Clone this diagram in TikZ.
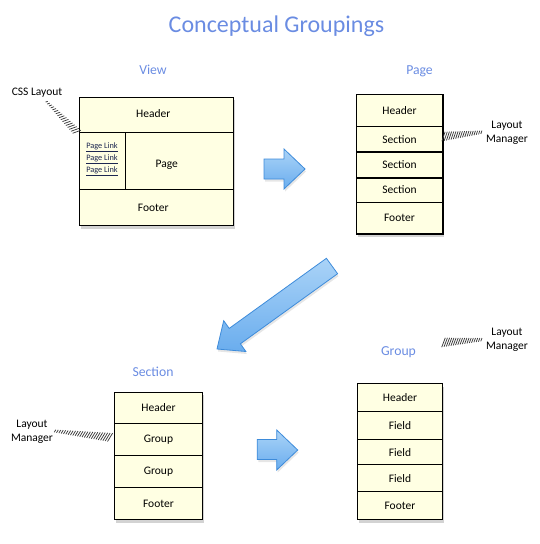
\documentclass[tikz,border=0pt]{standalone}
\usepackage{fontspec}
\setmainfont{Carlito}
\usetikzlibrary{calc,shadows}
\definecolor{boxfill}{HTML}{FFFFE3}
\definecolor{titleblue}{HTML}{6A8CE2}
\definecolor{arrowtop}{HTML}{AAD3F7}
\definecolor{arrowbot}{HTML}{6AADEE}
\definecolor{arrowedge}{HTML}{3D8BDA}
\definecolor{hatchgray}{HTML}{3A3A3A}
\definecolor{linkblue}{HTML}{1C2650}
\tikzset{
 boxtxt/.style={font=\fontsize{11.5}{13}\selectfont},
 row/.style={draw=black, line width=0.9pt, fill=boxfill, anchor=north west, inner sep=0pt, boxtxt},
 outer/.style={draw=black, line width=1pt, fill=boxfill, anchor=north west, inner sep=0pt,
   drop shadow={shadow xshift=1.5pt, shadow yshift=-3pt, opacity=0.35}},
 heading/.style={text=titleblue, font=\fontsize{13.7}{16}\selectfont},
 plain/.style={text=black, font=\fontsize{11.5}{14}\selectfont, align=center, inner sep=0pt},
 linktxt/.style={text=linkblue, font=\fontsize{8.3}{9}\selectfont, inner sep=0pt},
 hatchtick/.style={draw=hatchgray, line width=0.75pt},
 thicksep/.style={draw=black, line width=1.8pt},
 blockarrow/.style={draw=arrowedge, line width=0.8pt, top color=arrowtop, bottom color=arrowbot,
   drop shadow={shadow xshift=1pt, shadow yshift=-2.5pt, opacity=0.2}},
}
\newcommand\hatchline[5]{%
  \foreach \t in {0,#5,...,0.97}{%
    \pgfmathsetmacro\hh{#3+(#4-#3)*\t}%
    \coordinate (hp) at ($(#1)!\t!(#2)$);
    \draw[hatchtick] ($(hp)!\hh pt!65:(#2)$) -- ($(hp)!\hh pt!-115:(#2)$);
  }}
\begin{document}
\begin{tikzpicture}[x=1pt,y=-1pt]
\useasboundingbox (0,0) rectangle (539,544);
% title
\node[text=titleblue, font=\fontsize{24}{28}\selectfont] (title) at (276.5,26) {Conceptual Groupings};

% ---------- View ----------
\node[heading] (hview) at (153,70) {View};
\node[outer, minimum width=154pt, minimum height=128.3pt] (vbox) at (79.3,96.7) {};
\node[row, minimum width=154pt, minimum height=35.3pt] (vhead) at (79.3,96.7) {};
\node[plain] (vheadt) at (153.3,114) {Header};
\node[row, minimum width=46pt, minimum height=57pt] (vlinks) at (79.3,132) {};
\node[row, minimum width=108pt, minimum height=57pt] (vpage) at (125.3,132) {};
\node[plain] (vpaget) at (166.7,164.3) {Page};
\node[row, minimum width=154pt, minimum height=36pt] (vfoot) at (79.3,189) {};
\node[plain] (vfoott) at (153.3,207.7) {Footer};
\node[linktxt] (l1) at (102,147.3) {\underline{Page Link}};
\node[linktxt] (l2) at (102,159.2) {\underline{Page Link}};
\node[linktxt] (l3) at (102,171.1) {\underline{Page Link}};
\node[plain] (css) at (37,93) {CSS Layout};
\coordinate (cssA) at (46.7,101.7);
\coordinate (cssB) at (78,133);
\hatchline{cssA}{cssB}{1.2}{4.5}{0.06}

% ---------- Page ----------
\node[heading] (hpage) at (419.5,71) {Page};
\node[outer, minimum width=86pt, minimum height=139pt] (pbox) at (356,94) {};
\node[row, minimum width=86pt, minimum height=32pt] (ph) at (356,94) {Header};
\node[row, minimum width=86pt, minimum height=26pt] (ps1) at (356,126) {Section};
\node[row, minimum width=86pt, minimum height=25pt] (ps2) at (356,152) {Section};
\node[row, minimum width=86pt, minimum height=24.5pt] (ps3) at (356,177) {Section};
\node[row, minimum width=86pt, minimum height=31.5pt] (pf) at (356,201.5) {Footer};
\draw[thicksep] (ps2.north west) -- (ps2.north east);
\draw[thicksep] (ps2.south west) -- (ps2.south east);
\draw[black, line width=1pt] (pbox.north west) rectangle (pbox.south east);
\node[plain] (plm) at (507,133) {Layout\\Manager};
\coordinate (plmA) at (443.5,136.5);
\coordinate (plmB) at (484,132);
\hatchline{plmA}{plmB}{5}{1.5}{0.055}

% ---------- big arrows ----------
\path[blockarrow] (264,159) -- (284,159) -- (284,149) -- (305,169) -- (284,189) -- (284,179) -- (264,179) -- cycle;
\path[blockarrow] (326.4,258.3) -- (337.6,273.7) -- (240.4,343.8) -- (245.9,351.5) -- (217,349) -- (223.7,320.7) -- (229.2,328.4) -- cycle;
\path[blockarrow] (257.3,439.5) -- (276.7,439.5) -- (276.7,430) -- (297.7,450) -- (276.7,470) -- (276.7,459.5) -- (257.3,459.5) -- cycle;

% ---------- Section ----------
\node[heading] (hsec) at (153,372) {Section};
\node[outer, minimum width=87.4pt, minimum height=127.3pt] (sbox) at (114.3,391.7) {};
\node[row, minimum width=87.4pt, minimum height=31.6pt] (sh) at (114.3,391.7) {Header};
\node[row, minimum width=87.4pt, minimum height=32pt] (sg1) at (114.3,423.3) {Group};
\node[row, minimum width=87.4pt, minimum height=32pt] (sg2) at (114.3,455.3) {Group};
\node[row, minimum width=87.4pt, minimum height=31.7pt] (sf) at (114.3,487.3) {Footer};
\node[plain] (slm) at (32,431.5) {Layout\\Manager};
\coordinate (slmA) at (55,431);
\coordinate (slmB) at (112,437.5);
\hatchline{slmA}{slmB}{1.5}{5}{0.042}

% ---------- Group ----------
\node[heading] (hgrp) at (398.5,352.5) {Group};
\node[outer, minimum width=85.6pt, minimum height=136pt] (gbox) at (356.7,383.3) {};
\node[row, minimum width=85.6pt, minimum height=27.7pt] (gh) at (356.7,383.3) {Header};
\node[row, minimum width=85.6pt, minimum height=28pt] (gf1) at (356.7,411) {Field};
\node[row, minimum width=85.6pt, minimum height=25.3pt] (gf2) at (356.7,439) {Field};
\node[row, minimum width=85.6pt, minimum height=27pt] (gf3) at (356.7,464.3) {Field};
\node[row, minimum width=85.6pt, minimum height=28pt] (gft) at (356.7,491.3) {Footer};
\node[plain] (glm) at (507,340) {Layout\\Manager};
\coordinate (glmA) at (443.5,342.5);
\coordinate (glmB) at (484,339.5);
\hatchline{glmA}{glmB}{5}{1.5}{0.055}
\end{tikzpicture}
\end{document}
